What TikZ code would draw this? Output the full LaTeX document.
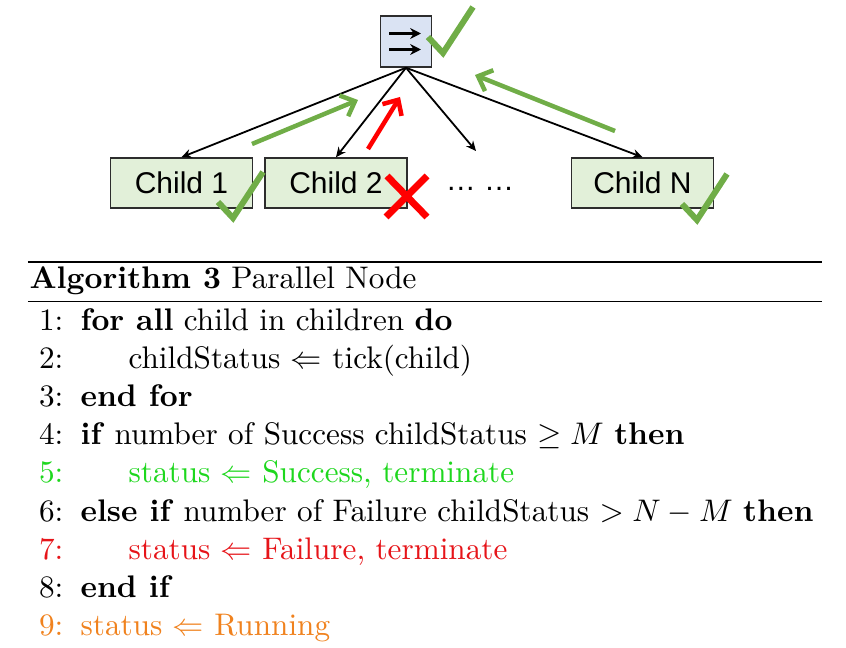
\RequirePackage{fix-cm}
\documentclass[tikz,border=0pt]{standalone}
\usepackage{amsmath}
\usepackage{amssymb}
\usepackage{fontspec}
\newfontfamily\arialfont{Liberation Sans}
\usepackage{tikz}
\usetikzlibrary{positioning, arrows.meta, calc}
\definecolor{okgreen}{RGB}{112,173,71}
\definecolor{boxgreen}{RGB}{226,240,217}
\definecolor{boxblue}{RGB}{218,227,243}
\definecolor{boxline}{RGB}{45,45,45}
\definecolor{sgreen}{RGB}{30,215,30}
\definecolor{fred}{RGB}{230,20,25}
\definecolor{rorange}{RGB}{240,130,30}
\tikzset{
	parnode/.style={draw=boxline, fill=boxblue, line width=0.5pt, minimum width=17pt, minimum height=17pt, inner sep=0pt},
	childnode/.style={draw=boxline, fill=boxgreen, line width=0.5pt, minimum width=47.3pt, minimum height=16.7pt, inner sep=0pt, font=\arialfont\fontsize{10}{12}\selectfont},
	every edge/.style={draw, -{Stealth[length=3.3pt,width=3pt]}, line width=0.6pt},
	backarrow/.style={-{Straight Barb[length=4pt,width=7.5pt]}, line width=1.5pt},
	okmark/.style={draw=okgreen, line width=2pt},
	nomark/.style={draw=red, line width=2.3pt},
	algtext/.style={anchor=base west, inner sep=0pt, font=\fontsize{10.4}{12.5}\selectfont},
	algnum/.style={anchor=base east, inner sep=0pt, font=\fontsize{10.4}{12.5}\selectfont}
}
% green tick, given by its lowest point
\newcommand{\okat}[2]{\draw[okmark] (#1-15,#2-16) -- (#1,#2) -- (#1+30,#2-46);}

\begin{document}
\begin{tikzpicture}[x=0.3333pt, y=-0.3333pt]
\useasboundingbox (0,0) rectangle (846,648);

% tree
\node[parnode] (par) at (406,41.5) {};
\draw[-{Stealth[length=3.6pt,width=3.6pt]}, line width=0.8pt] ($(par.center)+(-17,-8)$) -- ++(32,0);
\draw[-{Stealth[length=3.6pt,width=3.6pt]}, line width=0.8pt] ($(par.center)+(-17,8)$) -- ++(32,0);

\node[childnode] (c1) at (181.5,183) {Child 1};
\node[childnode] (c2) at (336,183) {Child 2};
\node[childnode] (cn) at (642.5,183) {Child N};
\node[anchor=base, inner sep=0pt, font=\arialfont\fontsize{10}{12}\selectfont] (more) at (480,190) {\dots\ \dots};
\coordinate (moreend) at (476,151);

\draw (par.south) edge (c1.north) edge (c2.north) edge (moreend) edge (cn.north);

% results going back up
\coordinate (g1s) at (252,144); \coordinate (g1e) at (358,100);
\coordinate (r2s) at (368,149); \coordinate (r2e) at (400,97);
\coordinate (gns) at (615,131); \coordinate (gne) at (475,75);
\draw[backarrow, okgreen] (g1s) -- (g1e);
\draw[backarrow, red] (r2s) -- (r2e);
\draw[backarrow, okgreen] (gns) -- (gne);

\okat{443}{53}
\okat{233}{218}
\okat{697}{220}
\draw[nomark] (387,176) -- (427,217) (427,176) -- (386,217);

% algorithm
\draw[line width=0.8pt] (28,262) -- (822,262);
\node[algtext] (cap) at (29,289) {\textbf{Algorithm 3} Parallel Node};
\draw[line width=0.45pt] (28,301.5) -- (822,301.5);

\node[algnum] (n1) at (64,330) {1:};
\node[algtext] (l1) at (80,330) {\textbf{for all} child in children \textbf{do}};
\node[algnum] (n2) at (64,368.25) {2:};
\node[algtext] (l2) at (128,368.25) {childStatus $\Leftarrow$ tick(child)};
\node[algnum] (n3) at (64,406.5) {3:};
\node[algtext] (l3) at (80,406.5) {\textbf{end for}};
\node[algnum] (n4) at (64,444.75) {4:};
\node[algtext] (l4) at (80,444.75) {\textbf{if} number of Success childStatus $\geq M$ \textbf{then}};
\node[algnum, text=sgreen] (n5) at (64,483) {5:};
\node[algtext, text=sgreen] (l5) at (128,483) {status $\Leftarrow$ Success, terminate};
\node[algnum] (n6) at (64,521.25) {6:};
\node[algtext] (l6) at (80,521.25) {\textbf{else if} number of Failure childStatus $> N-M$ \textbf{then}};
\node[algnum, text=fred] (n7) at (64,559.5) {7:};
\node[algtext, text=fred] (l7) at (128,559.5) {status $\Leftarrow$ Failure, terminate};
\node[algnum] (n8) at (64,597.75) {8:};
\node[algtext] (l8) at (80,597.75) {\textbf{end if}};
\node[algnum, text=rorange] (n9) at (64,636) {9:};
\node[algtext, text=rorange] (l9) at (80,636) {status $\Leftarrow$ Running};
\end{tikzpicture}
\end{document}
